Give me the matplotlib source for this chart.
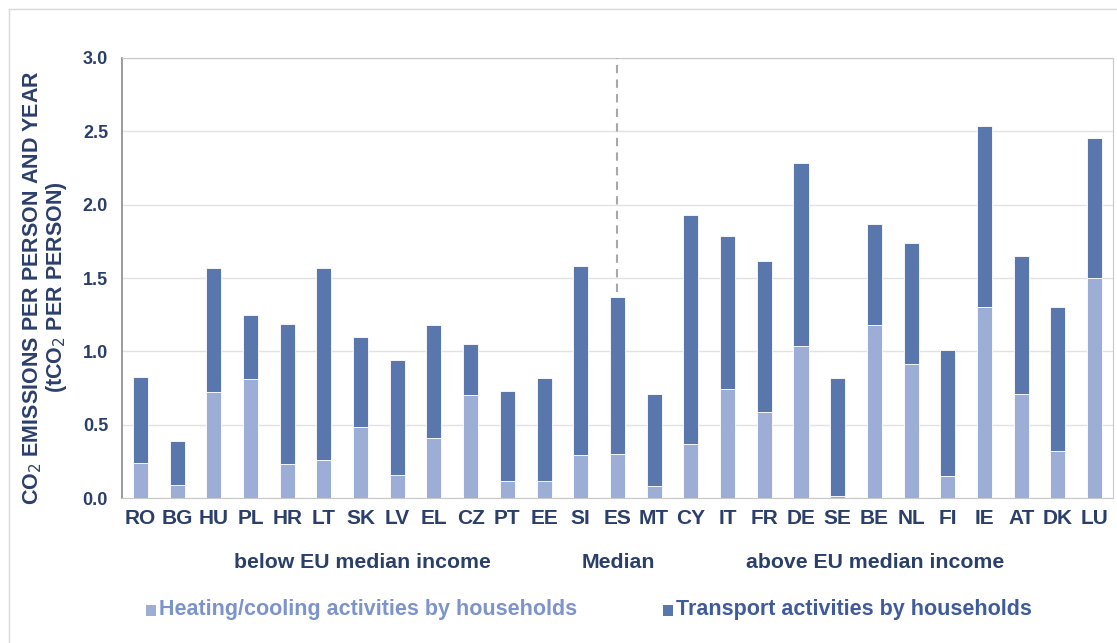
import matplotlib
matplotlib.use("Agg")
import matplotlib.pyplot as plt
from matplotlib.patches import Rectangle

plt.rcParams['font.family'] = ['Liberation Sans', 'DejaVu Sans']

countries = ["RO", "BG", "HU", "PL", "HR", "LT", "SK", "LV", "EL", "CZ", "PT", "EE", "SI",
             "ES", "MT", "CY", "IT", "FR", "DE", "SE", "BE", "NL", "FI", "IE", "AT", "DK", "LU"]
heating = [0.24, 0.09, 0.725, 0.81, 0.232, 0.26, 0.484, 0.16, 0.41, 0.70, 0.114, 0.118, 0.293,
           0.298, 0.08, 0.37, 0.741, 0.586, 1.036, 0.014, 1.18, 0.911, 0.15, 1.30, 0.709, 0.318, 1.498]
total = [0.827, 0.39, 1.57, 1.245, 1.184, 1.57, 1.095, 0.943, 1.18, 1.048, 0.73, 0.816, 1.58,
         1.372, 0.707, 1.927, 1.788, 1.618, 2.286, 0.816, 1.87, 1.736, 1.007, 2.535, 1.652, 1.304, 2.456]
transport = [t - h for t, h in zip(total, heating)]
yticks = [0.0, 0.5, 1.0, 1.5, 2.0, 2.5, 3.0]
median_country = "ES"
group_labels = ["below EU median income", "Median", "above EU median income"]
series_names = ["Heating/cooling activities by households", "Transport activities by households"]

c_heat = "#9DAED6"
c_trans = "#5A77AD"
c_text = "#2B3F6B"

n = len(countries)
x = list(range(n))

fig = plt.figure(figsize=(11.17, 6.43), dpi=100)
ax = fig.add_axes([0.1092, 0.2255, 0.8872, 0.6843])

ax.bar(x, heating, width=0.41, color=c_heat, edgecolor="white", linewidth=0.6, zorder=3)
ax.bar(x, transport, width=0.41, bottom=heating, color=c_trans, edgecolor="white", linewidth=0.6, zorder=3)

ax.set_xlim(-0.5, n - 0.5)
ax.set_ylim(0, 3.0)
ax.set_yticks(yticks)
ax.set_yticklabels([f"{v:.1f}" for v in yticks], fontsize=13, fontweight="bold", color=c_text)
ax.set_xticks(x)
ax.set_xticklabels(countries, fontsize=15, fontweight="bold", color=c_text)
ax.tick_params(axis="both", length=0)
ax.tick_params(axis="x", pad=8)
ax.tick_params(axis="y", pad=10)
ax.grid(axis="y", color="#E2E2E2", linewidth=1, zorder=0)
for s in ["top", "right", "bottom"]:
    ax.spines[s].set_color("#C8C8C8")
ax.spines["left"].set_color("#8A8A8A")
ax.spines["left"].set_linewidth(1.2)

# median divider above the median country
mi = countries.index(median_country)
ax.plot([mi, mi], [total[mi] + 0.03, 3.0], linestyle=(0, (4, 3)), color="#A8A8A8",
        linewidth=1.5, zorder=4)

fig.text(45 / 1117, 1 - 287.5 / 643, "CO$_2$ EMISSIONS PER PERSON AND YEAR\n(tCO$_2$ PER PERSON)",
         rotation=90, ha="center", va="center", fontsize=15.5, fontweight="bold",
         color=c_text, linespacing=1.0)

# group labels
gy = 1 - 563 / 643
fig.text(362 / 1117, gy, group_labels[0], ha="center", va="center", fontsize=15.3, fontweight="bold", color=c_text)
fig.text(618 / 1117, gy, group_labels[1], ha="center", va="center", fontsize=15.3, fontweight="bold", color=c_text)
fig.text(875 / 1117, gy, group_labels[2], ha="center", va="center", fontsize=15.3, fontweight="bold", color=c_text)

# legend
ly = 1 - 610 / 643
fig.patches.append(Rectangle((146 / 1117, 1 - 616 / 643), 10 / 1117, 11 / 643, transform=fig.transFigure,
                             facecolor=c_heat, edgecolor="none"))
fig.text(159 / 1117, ly, series_names[0], ha="left", va="center", fontsize=15.5, fontweight="bold", color="#7C94CB")
fig.patches.append(Rectangle((663 / 1117, 1 - 616 / 643), 10 / 1117, 11 / 643, transform=fig.transFigure,
                             facecolor=c_trans, edgecolor="none"))
fig.text(676 / 1117, ly, series_names[1], ha="left", va="center", fontsize=15.5, fontweight="bold", color="#3F5B9C")

# outer frame
fig.lines.append(plt.Line2D([9 / 1117, 9 / 1117], [0, 1 - 9 / 643], transform=fig.transFigure, color="#D9D9D9", linewidth=1))
fig.lines.append(plt.Line2D([9 / 1117, 1], [1 - 9 / 643, 1 - 9 / 643], transform=fig.transFigure, color="#D9D9D9", linewidth=1))

fig.savefig("out.png", dpi=100, facecolor="white")
